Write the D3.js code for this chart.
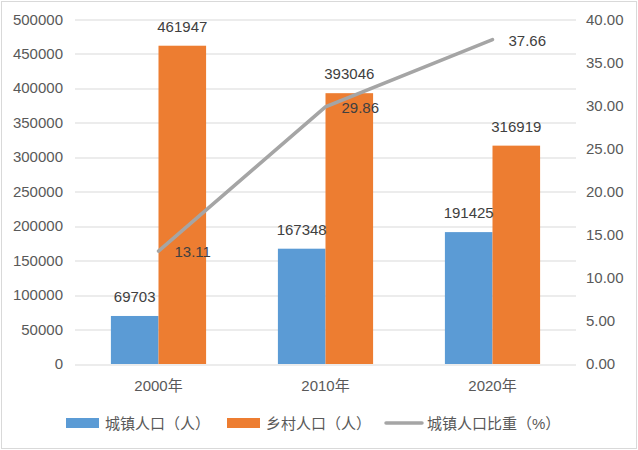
<!DOCTYPE html>
<html>
<head>
<meta charset="utf-8">
<script src="https://cdn.jsdelivr.net/npm/d3@7"></script>
<style>
  body { margin: 0; background: #fff; }
  text { font-family: "Liberation Sans", "Noto Sans CJK SC", sans-serif; }
</style>
</head>
<body>
<svg id="chart" width="638" height="450"></svg>
<script>
var years = ["2000年", "2010年", "2020年"];
var urban = [69703, 167348, 191425];
var rural = [461947, 393046, 316919];
var ratio = [13.11, 29.86, 37.66];
var leftTicks = [0, 50000, 100000, 150000, 200000, 250000, 300000, 350000, 400000, 450000, 500000];
var rightTicks = [0, 5, 10, 15, 20, 25, 30, 35, 40];
var seriesNames = ["城镇人口（人）", "乡村人口（人）", "城镇人口比重（%）"];

var svg = d3.select("#chart");
var margin = {left: 75, right: 62, top: 19.5, bottom: 86};
var width = 638 - margin.left - margin.right;
var height = 450 - margin.top - margin.bottom;

// outer frame
svg.append("rect")
    .attr("x", 1.5).attr("y", 1.5)
    .attr("width", 635).attr("height", 447)
    .attr("fill", "#fff")
    .attr("stroke", "#d9d9d9");

var g = svg.append("g").attr("transform", "translate(" + margin.left + "," + margin.top + ")");

var x = d3.scaleBand().domain(years).range([0, width]);
var yL = d3.scaleLinear().domain([0, 500000]).range([height, 0]);
var yR = d3.scaleLinear().domain([0, 40]).range([height, 0]);

var barW = x.bandwidth() * 0.285;

// gridlines
g.selectAll("line.grid")
    .data(leftTicks)
    .enter().append("line")
    .attr("class", "grid")
    .attr("x1", 0).attr("x2", width)
    .attr("y1", function(d) { return Math.round(yL(d)) + 0.5; })
    .attr("y2", function(d) { return Math.round(yL(d)) + 0.5; })
    .attr("stroke", "#d9d9d9")
    .attr("stroke-width", 1);

// left axis labels
g.selectAll("text.yl")
    .data(leftTicks)
    .enter().append("text")
    .attr("x", -12)
    .attr("y", function(d) { return yL(d) + 5; })
    .attr("text-anchor", "end")
    .attr("font-size", "15px")
    .attr("fill", "#595959")
    .text(function(d) { return d; });

// right axis labels
g.selectAll("text.yr")
    .data(rightTicks)
    .enter().append("text")
    .attr("x", width + 10)
    .attr("y", function(d) { return yR(d) + 5; })
    .attr("text-anchor", "start")
    .attr("font-size", "15px")
    .attr("fill", "#595959")
    .text(function(d) { return d.toFixed(2); });

// x labels
g.selectAll("text.xl")
    .data(years)
    .enter().append("text")
    .attr("x", function(d) { return x(d) + x.bandwidth() / 2; })
    .attr("y", height + 27)
    .attr("text-anchor", "middle")
    .attr("font-size", "15px")
    .attr("fill", "#595959")
    .text(function(d) { return d; });

var cx = function(i) { return x(years[i]) + x.bandwidth() / 2; };

// bars
g.selectAll("rect.urban")
    .data(urban)
    .enter().append("rect")
    .attr("x", function(d, i) { return cx(i) - barW; })
    .attr("y", function(d) { return yL(d); })
    .attr("width", barW)
    .attr("height", function(d) { return height - yL(d); })
    .attr("fill", "#5b9bd5");

g.selectAll("rect.rural")
    .data(rural)
    .enter().append("rect")
    .attr("x", function(d, i) { return cx(i); })
    .attr("y", function(d) { return yL(d); })
    .attr("width", barW)
    .attr("height", function(d) { return height - yL(d); })
    .attr("fill", "#ed7d31");

// bar labels
g.selectAll("text.ul")
    .data(urban)
    .enter().append("text")
    .attr("x", function(d, i) { return cx(i) - barW / 2; })
    .attr("y", function(d) { return yL(d) - 14; })
    .attr("text-anchor", "middle")
    .attr("font-size", "15px")
    .attr("fill", "#404040")
    .text(function(d) { return d; });

g.selectAll("text.rl")
    .data(rural)
    .enter().append("text")
    .attr("x", function(d, i) { return cx(i) + barW / 2; })
    .attr("y", function(d) { return yL(d) - 14; })
    .attr("text-anchor", "middle")
    .attr("font-size", "15px")
    .attr("fill", "#404040")
    .text(function(d) { return d; });

// ratio line
var line = d3.line()
    .x(function(d, i) { return cx(i); })
    .y(function(d) { return yR(d); });

g.append("path")
    .datum(ratio)
    .attr("d", line)
    .attr("fill", "none")
    .attr("stroke", "#a5a5a5")
    .attr("stroke-width", 3.5)
    .attr("stroke-linecap", "round");

g.selectAll("text.ll")
    .data(ratio)
    .enter().append("text")
    .attr("x", function(d, i) { return cx(i) + 16; })
    .attr("y", function(d) { return yR(d) + 6; })
    .attr("font-size", "15px")
    .attr("fill", "#404040")
    .text(function(d) { return d.toFixed(2); });

// legend
var legend = svg.append("g").attr("transform", "translate(0,423)");
var legendX = [66, 227, 386];

legend.append("rect")
    .attr("x", legendX[0]).attr("y", -5)
    .attr("width", 33).attr("height", 10)
    .attr("fill", "#5b9bd5");
legend.append("rect")
    .attr("x", legendX[1]).attr("y", -5)
    .attr("width", 33).attr("height", 10)
    .attr("fill", "#ed7d31");
legend.append("line")
    .attr("x1", legendX[2]).attr("x2", legendX[2] + 36)
    .attr("y1", 0).attr("y2", 0)
    .attr("stroke", "#a5a5a5")
    .attr("stroke-width", 3.5)
    .attr("stroke-linecap", "round");

legend.selectAll("text")
    .data(seriesNames)
    .enter().append("text")
    .attr("x", function(d, i) { return legendX[i] + (i === 2 ? 41 : 39); })
    .attr("y", 5.5)
    .attr("font-size", "15px")
    .attr("fill", "#595959")
    .text(function(d) { return d; });
</script>
</body>
</html>
